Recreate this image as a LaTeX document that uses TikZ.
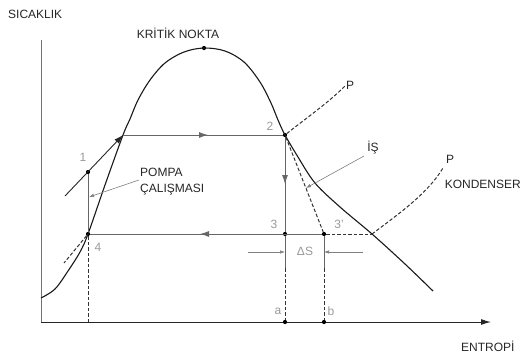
\documentclass[tikz,border=0pt]{standalone}
\usepackage{fontspec}
\setmainfont{Liberation Sans}
\usetikzlibrary{arrows.meta}
\begin{document}
\begin{tikzpicture}[x=1pt,y=-1pt,
  lbl/.style={font=\fontsize{12}{13}\selectfont, inner sep=0pt, text=black!85},
  num/.style={lbl, text=black!40},
  dot/.style={circle, fill=black, inner sep=0pt, minimum size=4.2pt},
  cyc/.style={draw=black!60, line width=0.9pt},
  curve/.style={draw=black!90, line width=1.1pt},
  dsh/.style={draw=black!80, dash pattern=on 3.5pt off 2pt, line width=1pt},
  lead/.style={draw=black!50, line width=0.6pt},
  tip/.style={-{Latex[length=9pt,width=6pt]}},
  stip/.style={-{Latex[length=5pt,width=3.5pt]}}
]
\useasboundingbox (0,0) rectangle (523,354);
% axes
\coordinate (O) at (41,322);
\coordinate (Ytop) at (41,40);
\coordinate (Xend) at (491,322);
\draw[black!55, line width=1pt] (Ytop) -- (O);
\draw[black!85, line width=1pt, -{Latex[length=10pt,width=6pt]}] (O) -- (Xend);
\node[lbl, anchor=west] (sic) at (8,14) {SICAKLIK};
\node[lbl] (krit) at (178,33) {KRİTİK NOKTA};
\node[lbl, anchor=west] (ent) at (461,346) {ENTROPİ};
% points
\node[dot] (p1) at (88,172) {};
\node[dot] (p2) at (285,135) {};
\node[dot] (p3) at (285,234) {};
\node[dot] (p3p) at (324,234) {};
\node[dot] (p4) at (88,234) {};
\node[dot] (kn) at (204,48) {};
\node[dot] (pa) at (285,322) {};
\node[dot] (pb) at (324,322) {};
\coordinate (q) at (123,135);
\coordinate (x3) at (372,234);
% saturation dome
\draw[curve] plot[smooth, tension=0.55] coordinates {(41,298) (55,289) (68,271) (80,252) (88,234) (105,185) (123,135) (130,119) (138,100) (150,80) (165,63) (184,52) (204,48) (225,51) (244,62) (260,82) (271,103) (278,120) (285,135) (298,157) (315,183) (340,207) (372,234) (405,264) (433,291)};
% cycle
\coordinate (s1) at (65,196);
\draw[black!85, line width=0.9pt, tip] (s1) -- (q);
\coordinate (mT) at (208,135);
\coordinate (mB) at (200,234);
\coordinate (mV) at (285,184);
\draw[cyc] (q) -- (p2);
\draw[cyc, tip] (q) -- (mT);
\draw[cyc] (p2) -- (p3);
\draw[cyc, tip] (p2) -- (mV);
\draw[cyc] (p3p) -- (p4);
\draw[cyc, tip] (p3) -- (mB);
\draw[cyc] (p4) -- (p1);
\draw[dsh] (p3p) -- (x3);
\draw[dsh] (p2) -- (p3p);
% extensions below 4
\coordinate (e4) at (64,263);
\coordinate (b4) at (88,322);
\draw[dsh] (p4) -- (e4);
\draw[dsh] (p4) -- (b4);
% verticals a, b
\coordinate (ma) at (285,268);
\coordinate (mb) at (324,268);
\draw[cyc] (p3) -- (ma);
\draw[dsh] (ma) -- (pa);
\draw[cyc] (p3p) -- (mb);
\draw[dsh] (mb) -- (pb);
% pressure lines
\coordinate (P1end) at (345,86);
\draw[dsh] (p2) .. controls (305,119) and (328,103) .. (P1end);
\node[lbl] (P1) at (350,85) {P};
\coordinate (P2end) at (443,168);
\draw[dsh] (x3) .. controls (400,213) and (428,193) .. (P2end);
\node[lbl] (P2) at (450,159) {P};
\node[lbl, anchor=east] (kond) at (521,184) {KONDENSER};
% labels
\node[lbl] (is) at (373,148) {İŞ};
\coordinate (isT) at (306,188);
\draw[lead, stip] (364,156) -- (isT);
\node[lbl, anchor=west] (pompa) at (140,172) {POMPA};
\node[lbl, anchor=west] (cal) at (140,190) {ÇALIŞMASI};
\coordinate (pT) at (89,197);
\draw[lead, stip] (139,180) -- (pT);
\node[num] (n1) at (83,157) {1};
\node[num] (n2) at (270,126) {2};
\node[num] (n3) at (274,224) {3};
\node[num] (n3p) at (339,224) {3'};
\node[num] (n4) at (98,247) {4};
\node[num] (na) at (278,311) {a};
\node[num] (nb) at (331,311) {b};
\node[num] (ds) at (305,251) {ΔS};
\coordinate (dl) at (248,252);
\coordinate (da) at (285,252);
\coordinate (dr) at (363,252);
\coordinate (db) at (324,252);
\draw[lead, stip] (dl) -- (da);
\draw[lead, stip] (dr) -- (db);
\end{tikzpicture}
\end{document}
